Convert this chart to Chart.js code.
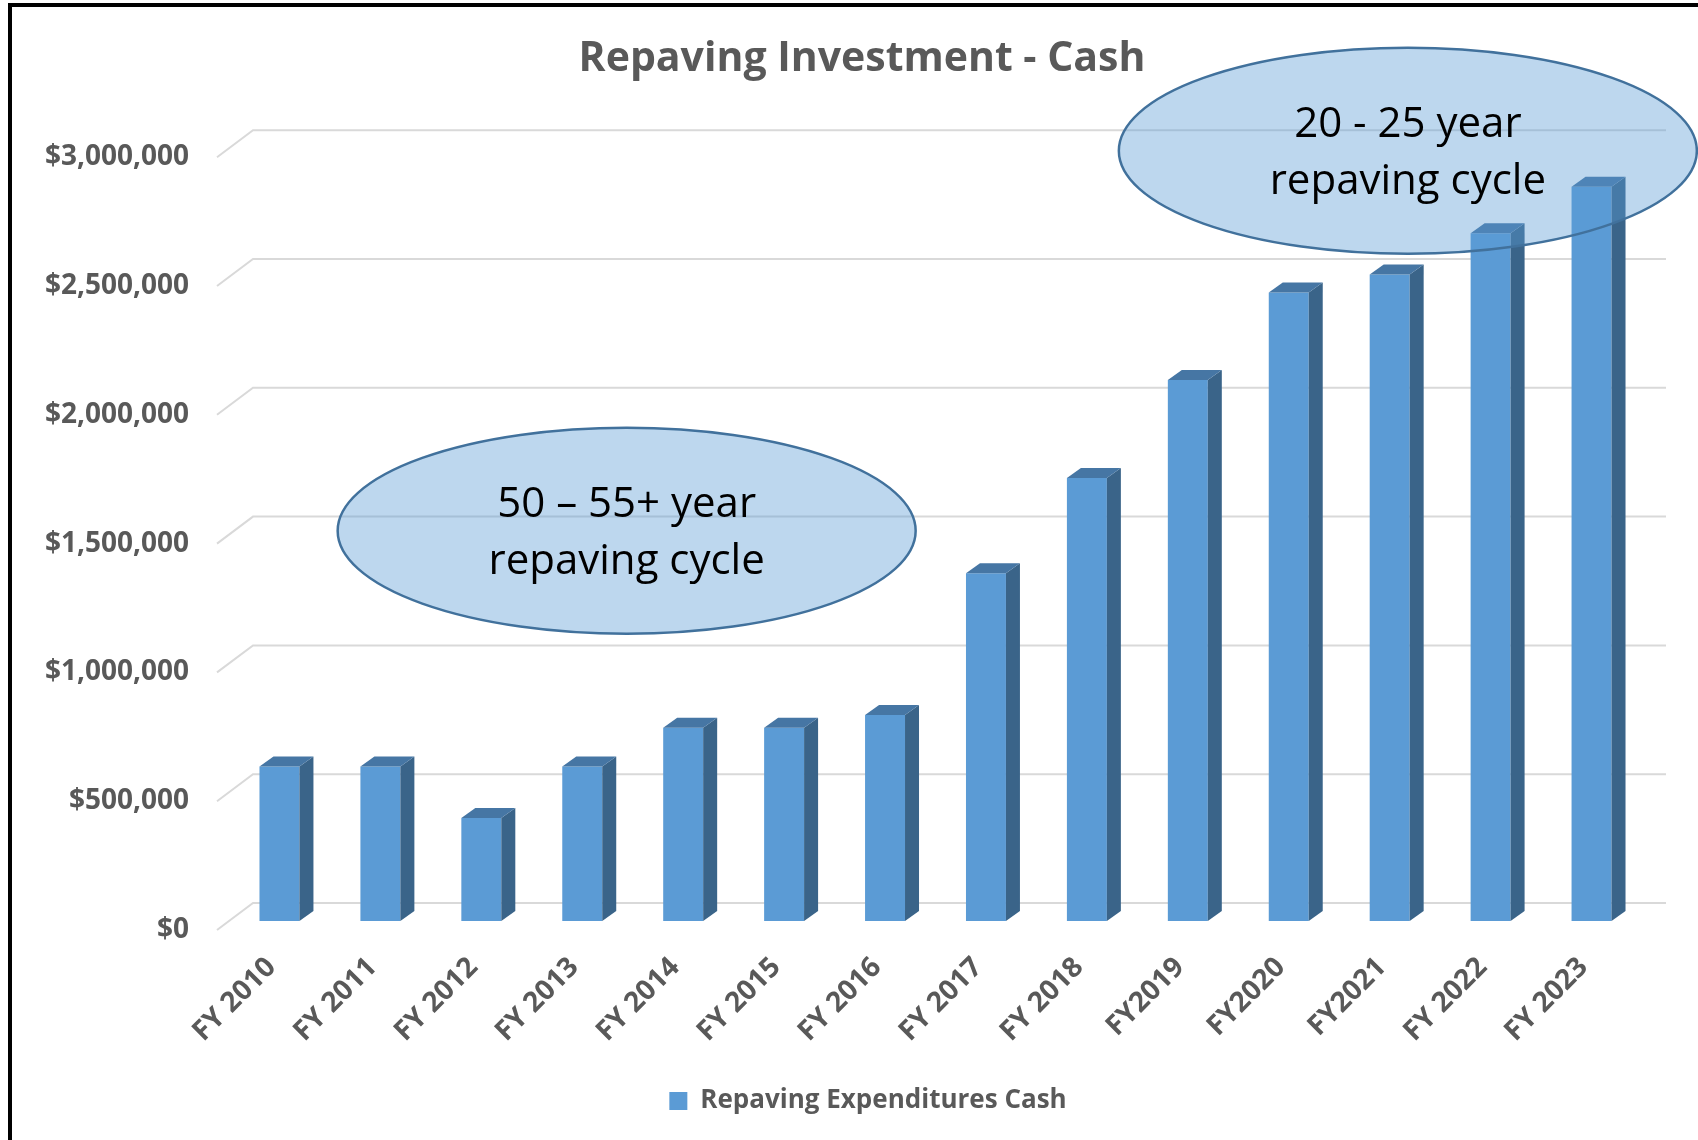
<!DOCTYPE html>
<html>
<head>
<meta charset="utf-8">
<title>Repaving Investment - Cash</title>
<script src="https://cdn.jsdelivr.net/npm/chart.js@4.4.1/dist/chart.umd.min.js"></script>
<style>
    html, body { margin: 0; padding: 0; background: #fff; }
    #wrap { width: 1698px; height: 1140px; }
</style>
</head>
<body>
<div id="wrap"><canvas id="repavingChart"></canvas></div>
<script>
// DATA
const years = ["FY 2010", "FY 2011", "FY 2012", "FY 2013", "FY 2014", "FY 2015", "FY 2016",
    "FY 2017", "FY 2018", "FY2019", "FY2020", "FY2021", "FY 2022", "FY 2023"];
const repavingCash = [600000, 600000, 400000, 600000, 750000, 750000, 800000,
    1350000, 1720000, 2100000, 2440000, 2510000, 2670000, 2850000];
const yTicks = [0, 500000, 1000000, 1500000, 2000000, 2500000, 3000000];

// callouts: position in chart values (category index, dollars)
const callouts = [
    { at: 3.44, value: 1515000, lines: ["50 \u2013 55+ year", "repaving cycle"] },
    { at: 11.18, value: 2990000, lines: ["20 - 25 year", "repaving cycle"] },
];

// STYLE
const GRAY = "#595959";
const FRONT = "#5B9BD5";
const SIDE = "#3A6489";
const TOP = "#4676A4";
const GRID = "#D9D9D9";
const DEPTH = { dx: 14, dy: -10 };     // bar depth
const FLOOR = { dx: 12, dy: 9 };       // bar plane -> front edge
const WALL = { dx: 24, dy: -18 };      // bar plane -> back wall
const LEGEND_SHIFT = 47;
const TITLE_SHIFT = 41;

Chart.defaults.font.family = "'Open Sans', 'Noto Sans', sans-serif";
Chart.defaults.color = GRAY;

function money(v) {
    return "$" + Number(v).toLocaleString("en-US");
}

// 3D GRID (left diagonal + back wall line)
const gridPlugin = {
    id: "grid3d",
    afterLayout(chart) {
        // title and legend sit right of the plot centre in the original
        chart.legend.left += LEGEND_SHIFT;
        chart.legend.right += LEGEND_SHIFT;
        chart.titleBlock.left += TITLE_SHIFT;
        chart.titleBlock.right += TITLE_SHIFT;
    },
    beforeDatasetsDraw(chart) {
        const { ctx, chartArea, scales: { y } } = chart;
        ctx.save();
        ctx.strokeStyle = GRID;
        ctx.lineWidth = 2;
        yTicks.forEach((t) => {
            const py = y.getPixelForValue(t);
            ctx.beginPath();
            ctx.moveTo(chartArea.left - FLOOR.dx, py + FLOOR.dy);
            ctx.lineTo(chartArea.left + WALL.dx, py + WALL.dy);
            ctx.lineTo(chartArea.right + WALL.dx, py + WALL.dy);
            ctx.stroke();
        });
        ctx.restore();
    },
};

// 3D BAR FACES (side + top)
const barPlugin = {
    id: "bar3d",
    afterDatasetsDraw(chart) {
        const { ctx } = chart;
        const meta = chart.getDatasetMeta(0);
        ctx.save();
        meta.data.forEach((bar) => {
            const l = bar.x - bar.width / 2;
            const r = bar.x + bar.width / 2;
            const t = bar.y;
            const b = bar.base;

            ctx.fillStyle = SIDE;
            ctx.beginPath();
            ctx.moveTo(r, t);
            ctx.lineTo(r + DEPTH.dx, t + DEPTH.dy);
            ctx.lineTo(r + DEPTH.dx, b + DEPTH.dy);
            ctx.lineTo(r, b);
            ctx.closePath();
            ctx.fill();

            ctx.fillStyle = TOP;
            ctx.beginPath();
            ctx.moveTo(l, t);
            ctx.lineTo(l + DEPTH.dx, t + DEPTH.dy);
            ctx.lineTo(r + DEPTH.dx, t + DEPTH.dy);
            ctx.lineTo(r, t);
            ctx.closePath();
            ctx.fill();
        });
        ctx.restore();
    },
};

// CALLOUTS + FRAME
const calloutPlugin = {
    id: "callouts",
    afterDraw(chart) {
        const { ctx, scales: { x, y } } = chart;
        ctx.save();
        callouts.forEach((c) => {
            const cx = x.getPixelForValue(c.at);
            const cy = y.getPixelForValue(c.value);
            ctx.beginPath();
            ctx.ellipse(cx, cy, 289, 103, 0, 0, Math.PI * 2);
            ctx.fillStyle = "rgba(91,155,213,0.4)";
            ctx.fill();
            ctx.lineWidth = 2.5;
            ctx.strokeStyle = "#41719C";
            ctx.stroke();

            ctx.fillStyle = "#000";
            ctx.font = "42px 'Open Sans', sans-serif";
            ctx.textAlign = "center";
            ctx.textBaseline = "middle";
            ctx.fillText(c.lines[0], cx, cy - 26);
            ctx.fillText(c.lines[1], cx, cy + 31);
        });

        // black frame (top + left)
        ctx.fillStyle = "#000";
        ctx.fillRect(8, 3, chart.width - 8, 4);
        ctx.fillRect(8, 3, 4, chart.height - 3);
        ctx.restore();
    },
};

// CHART
const ctx = document.getElementById("repavingChart").getContext("2d");
new Chart(ctx, {
    type: "bar",
    data: {
        labels: years,
        datasets: [
            {
                label: "Repaving Expenditures Cash",
                data: repavingCash,
                backgroundColor: FRONT,
                borderWidth: 0,
                categoryPercentage: 1,
                barPercentage: 0.396,
            },
        ],
    },
    options: {
        responsive: true,
        maintainAspectRatio: false,
        animation: false,
        layout: { padding: { left: 0, right: 56, top: 0, bottom: 16 } },
        plugins: {
            title: {
                display: true,
                text: "Repaving Investment - Cash",
                color: GRAY,
                font: { size: 41, weight: "bold" },
                padding: { top: 35, bottom: 64 },
            },
            legend: {
                position: "bottom",
                labels: {
                    color: GRAY,
                    font: { size: 26, weight: "bold" },
                    boxWidth: 18,
                    boxHeight: 18,
                    padding: 10,
                },
            },
            tooltip: { enabled: false },
        },
        scales: {
            x: {
                grid: { display: false, drawTicks: false },
                border: { display: false },
                ticks: {
                    autoSkip: false,
                    minRotation: 45,
                    maxRotation: 45,
                    padding: 30,
                    labelOffset: -8,
                    color: GRAY,
                    font: { size: 28, weight: "bold" },
                },
                afterFit(scale) { scale.height = 157; },
            },
            y: {
                min: 0,
                max: 3000000,
                grid: { display: false, drawTicks: false },
                border: { display: false },
                ticks: {
                    stepSize: 500000,
                    padding: 40,
                    labelOffset: 9,
                    color: GRAY,
                    font: { size: 28, weight: "bold" },
                    callback: (v) => money(v),
                },
                afterFit(scale) { scale.width = 229; },
            },
        },
    },
    plugins: [gridPlugin, barPlugin, calloutPlugin],
});
</script>
</body>
</html>
